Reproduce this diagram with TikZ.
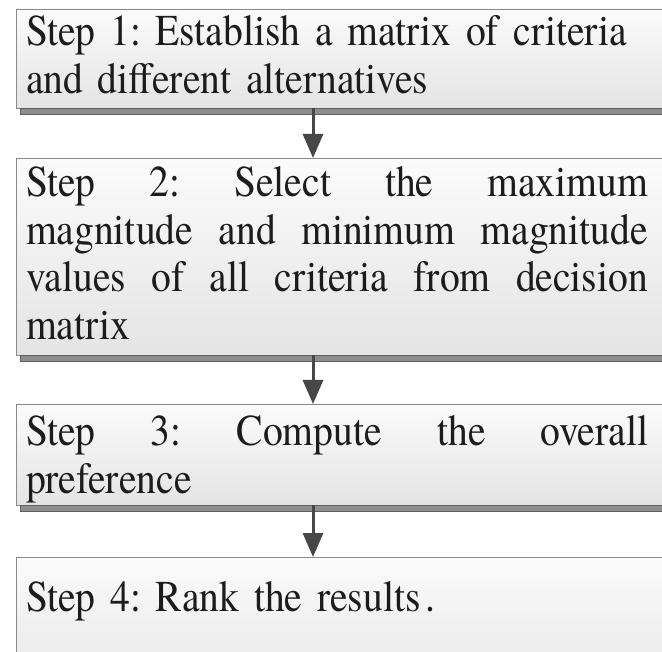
\documentclass[tikz,border=0pt]{standalone}
\usepackage{fontspec}
\setmainfont{texgyretermes}[Extension=.otf, UprightFont=*-regular, FakeStretch=0.9, WordSpace=1.6]
\usetikzlibrary{arrows.meta,calc}
\definecolor{boxborder}{HTML}{8A8A8A}
\definecolor{boxtop}{HTML}{FBFBFB}
\definecolor{boxbot}{HTML}{E4E4E4}
\definecolor{shadowcol}{HTML}{8E8E8E}
\definecolor{shadowedge}{HTML}{5E5E5E}
\definecolor{arrowcol}{HTML}{474747}
\definecolor{textcol}{HTML}{1C1C1C}
\newcommand{\stepfont}{\fontsize{44pt}{47.5pt}\selectfont\frenchspacing}
\newcommand{\firststrut}{\rule{0pt}{35pt}}
\newcommand{\fullline}[1]{\leavevmode\hbox to 622pt{#1}}
\newcommand{\gap}{\hfill}
\tikzset{
  stepbox/.style={draw=boxborder, line width=0.9pt, top color=boxtop, bottom color=boxbot,
    anchor=north west, minimum width=652pt, minimum height=#1, inner sep=0pt, outer sep=0pt},
  steptext/.style={anchor=north west, inner sep=0pt, outer sep=0pt, text width=636pt,
    align=left, font=\stepfont, text=textcol},
  shadowbar/.style={fill=shadowcol, draw=shadowedge, line width=0.8pt},
  flow/.style={draw=arrowcol, line width=3pt, -{Triangle[width=20pt,length=24pt]}}
}
\begin{document}
\begin{tikzpicture}[x=1pt,y=-1pt]
\useasboundingbox (0,0) rectangle (662,652);
\fill[white] (0,0) rectangle (662,652);
\clip (0,0) rectangle (662,652);

% boxes
\node[stepbox=99pt]  (b1) at (16,9)   {};
\node[stepbox=197pt] (b2) at (16,158) {};
\node[stepbox=101pt] (b3) at (16,404) {};
\node[stepbox=150pt] (b4) at (16,557) {};

% shadows
\foreach \b in {b1,b2,b3}{
  \filldraw[shadowbar] ($(\b.south west)+(4,0.5)$) rectangle ($(\b.south east)+(0,6.5)$);
}

% texts
\node[steptext] (t1) at (26,11) {\firststrut Step 1: Establish a matrix of criteria\\and different alternatives};
\node[steptext] (t2) at (26,162) {\firststrut\fullline{Step\gap 2:\gap Select\gap the\gap maximum}\\
  \fullline{magnitude\gap and\gap minimum\gap magnitude}\\
  \fullline{values\gap of\gap all\gap criteria\gap from\gap decision}\\
  matrix};
\node[steptext] (t3) at (26,411) {\firststrut\fullline{Step\gap 3:\gap Compute\gap the\gap overall}\\preference};
\node[steptext] (t4) at (26,576) {\firststrut Step 4: Rank the results\kern5pt.};

% connectors
\draw[flow] ($(b1.south west)+(297,0)$) -- ($(b2.north west)+(297,0)$);
\draw[flow] ($(b2.south west)+(297,0)$) -- ($(b3.north west)+(297,0)$);
\draw[flow] ($(b3.south west)+(297,0)$) -- ($(b4.north west)+(297,0)$);
\end{tikzpicture}
\end{document}
